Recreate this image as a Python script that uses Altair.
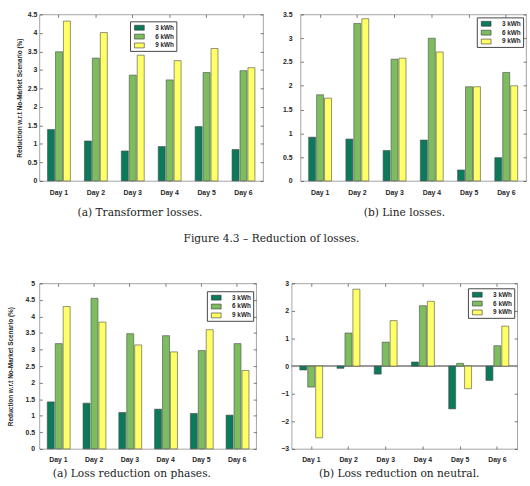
import altair as alt
import pandas as pd

days = ["Day 1", "Day 2", "Day 3", "Day 4", "Day 5", "Day 6"]
series = ["3 kWh", "6 kWh", "9 kWh"]
colors = ["#0b7a5b", "#7dbd60", "#ffff66"]

# (a) Transformer losses
trans_3 = [1.39, 1.08, 0.81, 0.93, 1.47, 0.85]
trans_6 = [3.49, 3.32, 2.86, 2.73, 2.93, 2.98]
trans_9 = [4.32, 4.01, 3.40, 3.25, 3.58, 3.06]
# (b) Line losses
line_3 = [0.92, 0.88, 0.64, 0.86, 0.23, 0.49]
line_6 = [1.81, 3.31, 2.56, 3.00, 1.98, 2.28]
line_9 = [1.74, 3.41, 2.58, 2.71, 1.98, 2.00]
# (a) Loss reduction on phases
phase_3 = [1.42, 1.38, 1.10, 1.20, 1.07, 1.02]
phase_6 = [3.18, 4.55, 3.48, 3.42, 2.97, 3.18]
phase_9 = [4.30, 3.83, 3.14, 2.93, 3.60, 2.37]
# (b) Loss reduction on neutral
neut_3 = [-0.14, -0.08, -0.29, 0.15, -1.55, -0.52]
neut_6 = [-0.76, 1.20, 0.87, 2.19, 0.10, 0.74]
neut_9 = [-2.60, 2.79, 1.65, 2.35, -0.82, 1.45]

ticks_45 = [0, 0.5, 1, 1.5, 2, 2.5, 3, 3.5, 4, 4.5]
ticks_35 = [0, 0.5, 1, 1.5, 2, 2.5, 3, 3.5]
ticks_5 = [0, 0.5, 1, 1.5, 2, 2.5, 3, 3.5, 4, 4.5, 5]
ticks_n = [-3, -2, -1, 0, 1, 2, 3]

Y_TITLE = "Reduction w.r.t No-Market Scenario (%)"
SANS = "Liberation Sans"
SERIF = "DejaVu Serif"
CAP_SIZE = 10.8
AX = "#262626"


def make_df(v3, v6, v9):
    rows = []
    for i, d in enumerate(days):
        for s, v in zip(series, (v3[i], v6[i], v9[i])):
            rows.append({"Day": d, "Battery": s, "Value": v})
    return pd.DataFrame(rows)


def panel(df, dom, ticks, w, h, caption, ytitle, lx, ly, lab_pad, title_pad,
          xlab_pad, cap_off, zero=False):
    xscale = alt.Scale(domain=days, paddingInner=0.38, paddingOuter=0.22)
    yscale = alt.Scale(domain=dom, nice=False, zero=False)
    ykw = dict(values=ticks, format="~g", grid=False, domain=False,
               tickSize=3, offset=-3, tickColor=AX, tickWidth=0.6,
               labelFont=SANS, labelFontWeight="bold", labelFontSize=7,
               labelColor=AX, labelPadding=lab_pad)
    if ytitle:
        ykw.update(title=ytitle, titleFont=SANS, titleFontWeight="bold",
                   titleFontSize=6.5, titleColor=AX, titlePadding=title_pad)
    else:
        ykw.update(title=None)
    bars = alt.Chart(df).mark_bar(stroke="#4a4a4a", strokeWidth=0.6).encode(
        x=alt.X("Day:N", scale=xscale,
                axis=alt.Axis(title=None, labelAngle=0, domain=False, tickSize=3,
                              offset=-3, tickColor=AX, tickWidth=0.6,
                              labelFont=SANS, labelFontWeight="bold",
                              labelFontSize=7, labelColor=AX, labelPadding=xlab_pad)),
        xOffset=alt.XOffset("Battery:N", sort=series,
                            scale=alt.Scale(paddingInner=0.12, paddingOuter=0)),
        y=alt.Y("Value:Q", scale=yscale, axis=alt.Axis(**ykw)),
        color=alt.Color("Battery:N", sort=series,
                        scale=alt.Scale(domain=series, range=colors),
                        legend=alt.Legend(title=None, orient="none",
                                          legendX=lx, legendY=ly,
                                          symbolType="M-1.1,-0.55H1.1V0.55H-1.1Z",
                                          symbolSize=81, symbolStrokeColor="#333",
                                          symbolStrokeWidth=0.6, symbolOpacity=1,
                                          symbolOffset=3,
                                          labelFont=SANS, labelFontWeight="bold",
                                          labelFontSize=6.5, labelColor=AX,
                                          labelOffset=11, padding=1.5, rowPadding=0,
                                          strokeColor="#444", fillColor="white",
                                          cornerRadius=0)),
    )
    frame = alt.Chart(df).mark_point(opacity=0).encode(
        x=alt.X("Day:N", scale=xscale,
                axis=alt.Axis(orient="top", title=None, labels=False, domain=False,
                              tickSize=3, offset=-3, tickColor=AX, tickWidth=0.6)),
        y=alt.Y("Value:Q", scale=yscale,
                axis=alt.Axis(orient="right", title=None, labels=False, domain=False,
                              values=ticks, tickSize=3, offset=-3, tickColor=AX,
                              tickWidth=0.6, grid=False)),
    )
    layers = []
    if zero:
        layers.append(alt.Chart(df).mark_rule(color="#9a9a9a", strokeWidth=0.8).encode(
            y=alt.datum(0, scale=yscale, axis=None)))
    layers += [bars, frame]
    return alt.layer(*layers).resolve_axis(x="independent", y="independent").properties(
        width=w, height=h,
        title=alt.TitleParams(text=caption, orient="bottom", anchor="middle",
                              frame="bounds", font=SERIF, fontSize=CAP_SIZE,
                              fontWeight="normal", color="#222", offset=cap_off),
    )


p1 = panel(make_df(trans_3, trans_6, trans_9), [0, 4.5], ticks_45, 227, 169,
           "(a) Transformer losses.", Y_TITLE, 92, 7, 2.5, 5, 7.5, 12.5)
p2 = panel(make_df(line_3, line_6, line_9), [0, 3.5], ticks_35, 229, 169,
           "(b) Line losses.", None, 179, 3, 8.5, 0, 7.5, 12.5)
p3 = panel(make_df(phase_3, phase_6, phase_9), [0, 5], ticks_5, 220, 168,
           "(a) Loss reduction on phases.", Y_TITLE, 170, 8, 4.8, 12, 6.5, 6.5)
p4 = panel(make_df(neut_3, neut_6, neut_9), [-3, 3], ticks_n, 229, 168,
           "(b) Loss reduction on neutral.", None, 179, 5, 3, 0, 6.5, 6.5, zero=True)

row1 = alt.hconcat(p1, p2, spacing=18).resolve_scale(color="independent").resolve_legend(
    color="independent").properties(
    title=alt.TitleParams(text="Figure 4.3 – Reduction of losses.", orient="bottom",
                          anchor="middle", frame="bounds", font=SERIF, fontSize=CAP_SIZE,
                          fontWeight="normal", color="#222", offset=15))
row2 = alt.hconcat(p3, p4, spacing=23).resolve_scale(color="independent").resolve_legend(
    color="independent")

chart = alt.vconcat(row1, row2, spacing=34).resolve_scale(color="independent").resolve_legend(
    color="independent").properties(
    padding={"left": 7, "top": 6, "right": 3, "bottom": 0},
    background="white",
).configure_view(stroke="#8c8c8c", strokeWidth=0.8)

chart.save("out.html", embed_options={"renderer": "svg", "actions": False})
